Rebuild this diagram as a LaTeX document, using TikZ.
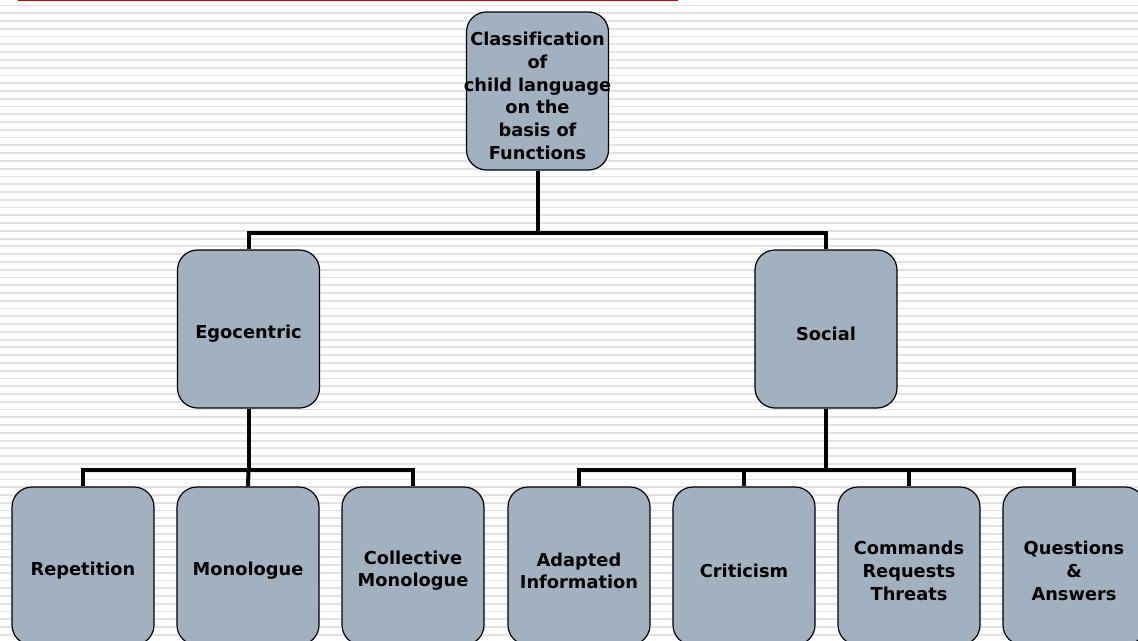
\documentclass[tikz,border=0pt]{standalone}
\usepackage{fontspec}
\setmainfont{DejaVu Sans}[Ligatures=NoCommon]
\usepackage{tikz}
\usetikzlibrary{positioning, calc}
\definecolor{grigioblu}{RGB}{162,177,192}
\definecolor{righe}{RGB}{226,226,226}
\definecolor{rosso}{RGB}{204,0,0}
\tikzset{
    casella/.style = {draw = black, line width = 1.2pt, fill = grigioblu, rounded corners = 20pt,
        minimum height = 158pt, inner sep = 0pt, text width = 142pt, align = center,
        font = \bfseries\fontsize{17.8}{22.7}\selectfont,
        execute at begin node = \rule{0pt}{23pt}},
    ramo/.style = {line width = 4pt, line join = miter}
}

\begin{document}
\begin{tikzpicture}[x = 1pt, y = -1pt]
    % Parametri
    \pgfmathsetmacro{\passo}{7.77}
    \pgfmathsetmacro{\barraA}{233}
    \pgfmathsetmacro{\barraB}{470}
    % Sfondo
    \useasboundingbox (0,0) rectangle (1138,640);
    \clip (0,0) rectangle (1138,640);
    \fill[white] (0,0) rectangle (1138,640);
    \foreach \i in {0,...,82}{
        \draw[righe, line width = 1.8pt] (0,{5.5+\i*\passo}) -- (1138,{5.5+\i*\passo});
    }
    \draw[rosso, line width = 1.6pt] (18,0.5) -- (678,0.5);
    % Nodi
    \node[casella] (radice) at (537.5,91) {Classification\\of\\\makebox[142pt][c]{child language}\\on the\\basis of\\Functions};
    \node[casella] (ego) at (248.5,329) {Egocentric};
    \node[casella] (soc) at (826,329) {Social};
    \node[casella] (ripet) at (83,566) {Repetition};
    \node[casella] (mono) at (248,566) {Monologue};
    \node[casella] (coll) at (413,566) {Collective\\Monologue};
    \node[casella] (adatt) at (579,566) {Adapted\\Information};
    \node[casella] (crit) at (744,566) {Criticism};
    \node[casella] (comandi) at (909,566) {Commands\\Requests\\Threats};
    \node[casella] (domande) at (1074,566) {Questions\\\&\\Answers};
    % Collegamenti
    \coordinate (bA) at (radice.south |- 0,\barraA);
    \coordinate (bB) at (ego.south |- 0,\barraB);
    \coordinate (bC) at (soc.south |- 0,\barraB);
    \draw[ramo] (radice.south) -- (bA);
    \draw[ramo] (ego.north) |- (bA) -| (soc.north);
    \draw[ramo] (ego.south) -- (bB);
    \draw[ramo] (ripet.north) |- (bB) -| (coll.north);
    \draw[ramo] (mono.north) -- (bB);
    \draw[ramo] (soc.south) -- (bC);
    \draw[ramo] (adatt.north) |- (bC) -| (domande.north);
    \draw[ramo] (crit.north) -- (crit.north |- bC);
    \draw[ramo] (comandi.north) -- (comandi.north |- bC);
\end{tikzpicture}
\end{document}
